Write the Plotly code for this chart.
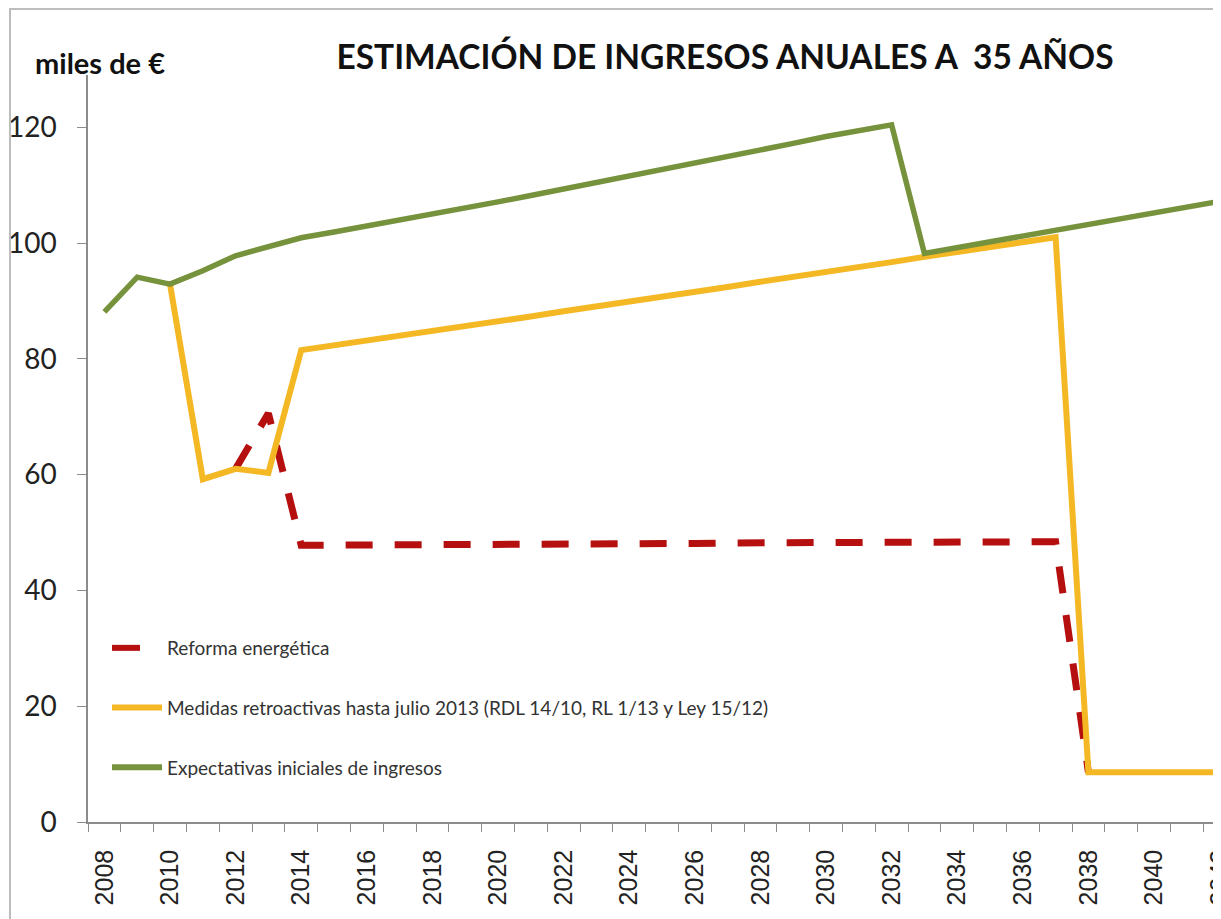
import plotly.graph_objects as go

# Años de la serie (35 años)
years = list(range(2008, 2043))

# Expectativas iniciales de ingresos (miles de €)
expectativas = [88.1, 94.1, 92.9, 95.2, 97.8, 99.3, 100.9, 101.9, 102.9, 103.9,
                105.0, 106.0, 107.1, 108.2, 109.3, 110.4, 111.5, 112.6, 113.7, 114.9,
                116.0, 117.2, 118.4, 119.4, 120.4, 98.2, 99.2, 100.1, 101.0, 102.0,
                103.0, 104.0, 105.0, 106.1, 107.2]

# Medidas retroactivas (empieza en 2010)
medidas_years = list(range(2010, 2043))
medidas = [92.9, 59.2, 61.0, 60.3, 81.5, 82.3, 83.1, 84.0, 84.8, 85.6,
           86.5, 87.3, 88.2, 89.0, 89.9, 90.7, 91.6, 92.4, 93.3, 94.1,
           95.0, 95.9, 96.7, 97.6, 98.4, 99.3, 100.1, 101.0, 8.6, 8.6,
           8.6, 8.6, 8.6]

# Reforma energética (visible desde 2012 hasta 2038)
reforma_years = list(range(2012, 2039))
reforma = [61.0, 70.6, 47.8, 47.8, 47.9, 47.9, 47.9, 48.0, 48.0, 48.0,
           48.0, 48.1, 48.1, 48.1, 48.1, 48.2, 48.2, 48.2, 48.2, 48.3,
           48.3, 48.3, 48.3, 48.4, 48.4, 48.4, 8.6]

label_years = years[::2]

names = ["Reforma energética",
         "Medidas retroactivas hasta julio 2013 (RDL 14/10, RL 1/13 y Ley 15/12)",
         "Expectativas iniciales de ingresos"]
colors = ["#B50F0F", "#F4B824", "#77923C"]

# the page has an 8px body margin, so the figure is 8px smaller than the window
W, H = 1213, 911
ML, MT, MB = 80, 67, 97
plot_w = W - ML
plot_h = H - MT - MB
px_per_year = 32.8
px_per_unit = 5.79


def px_x(p):
    return (p - ML) / plot_w


def px_y(p):
    return (H - MB - p) / plot_h


fig = go.Figure()

fig.add_trace(go.Scatter(
    x=reforma_years, y=reforma, mode="lines", name=names[0], showlegend=False,
    line=dict(color=colors[0], width=7, dash="27px,22px"),
))
fig.add_trace(go.Scatter(
    x=medidas_years, y=medidas, mode="lines", name=names[1], showlegend=False,
    line=dict(color=colors[1], width=6),
))
fig.add_trace(go.Scatter(
    x=years, y=expectativas, mode="lines", name=names[2], showlegend=False,
    line=dict(color=colors[2], width=5.5),
))

# legend entries: the red symbol shows a single dash, as in the original
legend_dash = ["28px,40px", "solid", "solid"]
for i in range(3):
    fig.add_trace(go.Scatter(
        x=[None], y=[None], mode="lines", name=names[i], legendgroup=str(i),
        line=dict(color=colors[i], width=6, dash=legend_dash[i]),
    ))

fig.update_xaxes(
    range=[2007.5, 2007.5 + plot_w / px_per_year],
    tickmode="array", tickvals=label_years, ticktext=[str(y) for y in label_years],
    ticks="", tickangle=-90, ticklabelstandoff=16, ticklabeloverflow="allow",
    tickfont=dict(family="Liberation Sans, Arial", size=25, color="#222"),
    minor=dict(tickmode="linear", tick0=2007.5, dtick=1, ticks="outside",
               ticklen=8, tickcolor="#8c8c8c", showgrid=False),
    showline=True, linecolor="#8c8c8c", linewidth=1.5,
    showgrid=False, zeroline=False, automargin=False,
)
fig.update_yaxes(
    range=[0, plot_h / px_per_unit],
    tickvals=[0, 20, 40, 60, 80, 100, 120],
    ticks="outside", ticklen=9, tickcolor="#8c8c8c", ticklabelstandoff=15,
    tickfont=dict(family="Lato", size=28, color="#222"),
    showline=True, linecolor="#8c8c8c", linewidth=1.5,
    showgrid=False, zeroline=False, automargin=False,
)

# marco exterior del gráfico
fig.add_shape(type="rect", xref="paper", yref="paper",
              x0=px_x(2), x1=1.2, y0=-0.3, y1=px_y(1),
              line=dict(color="#bdbdbd", width=2), fillcolor="rgba(0,0,0,0)")

fig.add_annotation(text="<b>miles de €</b>", xref="paper", yref="paper",
                   x=px_x(25), y=px_y(54),
                   xanchor="left", yanchor="middle", showarrow=False,
                   font=dict(family="Lato", size=29, color="#111"))

fig.update_layout(
    width=W, height=H,
    margin=dict(l=ML, r=0, t=MT, b=MB),
    paper_bgcolor="white", plot_bgcolor="white",
    title=dict(text="<b>ESTIMACIÓN DE INGRESOS ANUALES A  35 AÑOS</b>",
               x=717 / W, xanchor="center", y=1 - 49 / H, yanchor="middle",
               font=dict(family="Lato", size=33.5, color="#111")),
    legend=dict(x=px_x(99), y=px_y(621),
                xanchor="left", yanchor="top", bgcolor="rgba(0,0,0,0)",
                font=dict(family="Lato", size=19, color="#333"),
                tracegroupgap=32, itemwidth=50, traceorder="grouped"),
    showlegend=True,
)

fig.write_html("out.html")
